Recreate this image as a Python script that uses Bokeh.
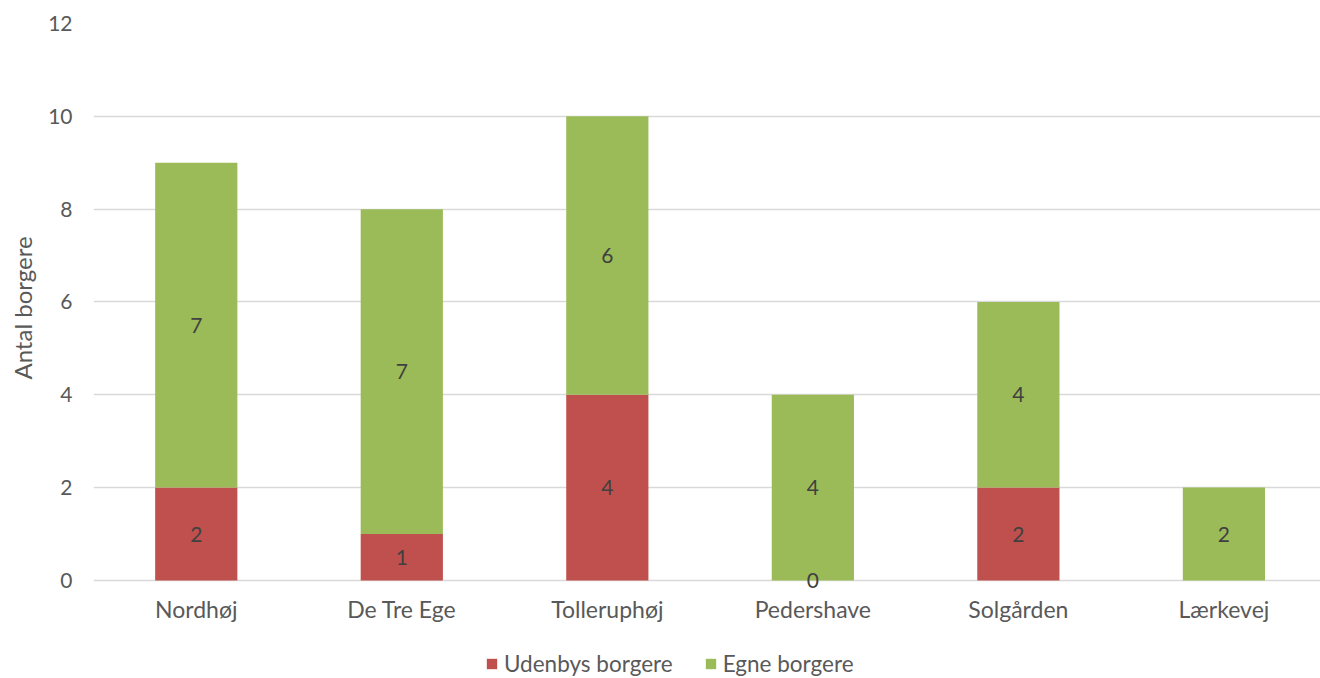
import numpy as np
from bokeh.plotting import figure
from bokeh.layouts import column
from bokeh.models import ColumnDataSource, Range1d, FixedTicker, Legend, LegendItem
from bokeh.core.properties import value
from bokeh.embed import file_html
from bokeh.resources import INLINE

categories = ["Nordhøj", "De Tre Ege", "Tolleruphøj", "Pedershave", "Solgården", "Lærkevej"]
udenbys = [2, 1, 4, 0, 2, None]   # Udenbys borgere (blank for Lærkevej)
egne = [7, 7, 6, 4, 4, 2]         # Egne borgere
y_ticks = [0, 2, 4, 6, 8, 10, 12]
series_names = ["Udenbys borgere", "Egne borgere"]
colors = ["#C0504D", "#9BBB59"]

FONT = "Lato"
x = list(range(len(categories)))
red = [0 if v is None else v for v in udenbys]

src = ColumnDataSource(dict(x=x, red=red, green=egne))

p = figure(width=1320, height=630, output_backend="svg", toolbar_location=None,
           x_range=Range1d(-0.5, 5.47), y_range=Range1d(-0.26, 12),
           min_border_left=93, min_border_right=0, min_border_top=23, min_border_bottom=38)
p.outline_line_color = None
p.background_fill_color = "white"

renderers = p.vbar_stack(["red", "green"], x="x", width=0.4, source=src,
                         color=colors, line_color=None)

# data labels
lx, ly, lt = [], [], []
for i in x:
    if udenbys[i] is not None:
        lx.append(i); ly.append(udenbys[i] / 2); lt.append(str(udenbys[i]))
    lx.append(i); ly.append(red[i] + egne[i] / 2); lt.append(str(egne[i]))
lab = ColumnDataSource(dict(x=lx, y=ly, t=lt))
p.text(x="x", y="y", text="t", source=lab, text_align="center", text_baseline="middle",
       text_font=value(FONT), text_font_size="21px", text_color="#404040")

# axes
p.xaxis.ticker = FixedTicker(ticks=x)
p.xaxis.major_label_overrides = {i: c for i, c in enumerate(categories)}
p.xaxis.major_tick_line_color = None
p.xaxis.minor_tick_line_color = None
p.xaxis.axis_line_color = None
p.xaxis.major_label_standoff = -4
p.xaxis.major_label_text_font = FONT
p.xaxis.major_label_text_font_size = "23px"
p.xaxis.major_label_text_color = "#595959"

p.yaxis.ticker = FixedTicker(ticks=y_ticks)
p.yaxis.major_tick_line_color = None
p.yaxis.minor_tick_line_color = None
p.yaxis.axis_line_color = None
p.yaxis.major_label_standoff = 15
p.yaxis.major_label_text_font = FONT
p.yaxis.major_label_text_font_size = "21px"
p.yaxis.major_label_text_color = "#595959"
p.yaxis.axis_label = "Antal borgere"
p.yaxis.axis_label_text_font = FONT
p.yaxis.axis_label_text_font_size = "24px"
p.yaxis.axis_label_text_font_style = "normal"
p.yaxis.axis_label_text_color = "#595959"
p.yaxis.axis_label_standoff = 8

p.xgrid.grid_line_color = None
p.ygrid.grid_line_color = "#D9D9D9"
p.ygrid.grid_line_width = 1.3

# legend strip below the chart
lg = figure(width=1320, height=48, output_backend="svg", toolbar_location=None,
            x_range=Range1d(0, 1), y_range=Range1d(0, 1),
            min_border=0, min_border_left=0, min_border_right=0,
            min_border_top=0, min_border_bottom=0)
lg.axis.visible = False
lg.grid.visible = False
lg.outline_line_color = None
dummy = [lg.vbar(x=[np.nan], top=[np.nan], width=1, color=c, line_color=None) for c in colors]
legend = Legend(items=[LegendItem(label=n, renderers=[r]) for n, r in zip(series_names, dummy)],
                orientation="horizontal", location=(392, 1), margin=0,
                glyph_width=13, glyph_height=13, label_standoff=6, spacing=31, padding=0,
                border_line_color=None, background_fill_alpha=0,
                label_text_font=FONT, label_text_font_size="22.5px", label_text_color="#595959")
lg.add_layout(legend, "center")

layout = column(p, lg, spacing=0)
open("out.html", "w").write(file_html(layout, INLINE))
